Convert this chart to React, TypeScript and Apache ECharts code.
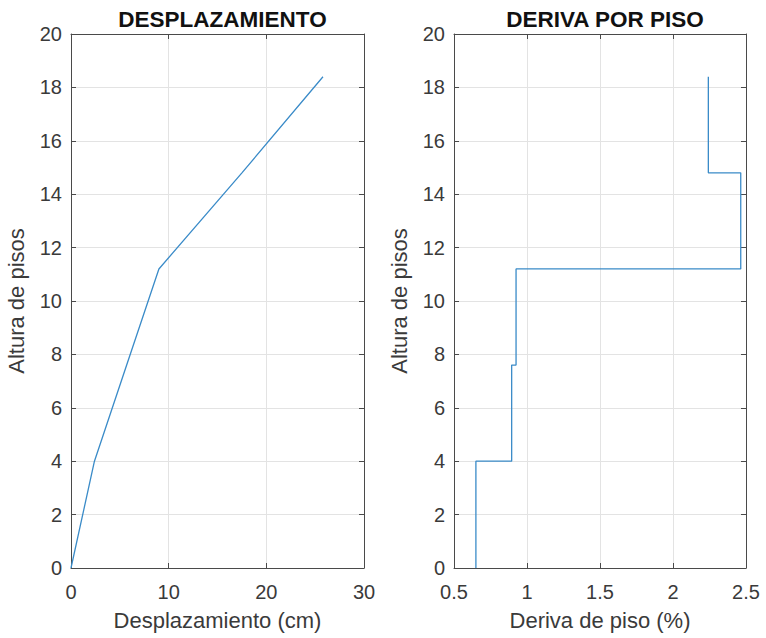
import React, { useEffect, useRef } from "react";
import * as echarts from "echarts";

// Floor heights (m)
const heights = [0, 4, 7.6, 11.2, 14.8, 18.4];
// Displacement at each floor (cm)
const displacement = [0, 2.4, 5.7, 9.0, 17.5, 25.8];
// Story drift (%) for each story (between consecutive floors)
const drift = [0.65, 0.895, 0.925, 2.464, 2.242];

const titles = ["DESPLAZAMIENTO", "DERIVA POR PISO"];
const xNames = ["Desplazamiento (cm)", "Deriva de piso (%)"];
const yName = "Altura de pisos";

const FONT = "Arial, 'Liberation Sans', Helvetica, sans-serif";
const AXIS_COLOR = "#4a4a4a";
const GRID_COLOR = "#e3e3e3";
const LABEL_COLOR = "#3a3a3a";
const LINE_COLOR = "#3a8bc8";

export default function App() {
  const ref = useRef<HTMLDivElement>(null);

  useEffect(() => {
    document.body.style.margin = "0";
    if (!ref.current) return;
    const chart = echarts.init(ref.current, null, { renderer: "svg" });

    const dispData = heights.map((h, i) => [displacement[i], h]);
    const driftData: number[][] = [];
    drift.forEach((d, i) => {
      driftData.push([d, heights[i]]);
      driftData.push([d, heights[i + 1]]);
    });

    const grids = [
      { left: 71, top: 34, width: 293, height: 534 },
      { left: 454, top: 34, width: 292, height: 534 },
    ];
    const xRanges = [
      { min: 0, max: 30, interval: 10 },
      { min: 0.5, max: 2.5, interval: 0.5 },
    ];
    const yRange = { min: 0, max: 20, interval: 2 };

    const axisLine = { show: true, onZero: false, lineStyle: { color: AXIS_COLOR, width: 1 } };
    const axisTick = { show: true, inside: true, length: 5, lineStyle: { color: AXIS_COLOR } };
    const labelStyle = { color: LABEL_COLOR, fontSize: 20, fontFamily: FONT, hideOverlap: false };

    const xAxis: any[] = [];
    const yAxis: any[] = [];
    [0, 1].forEach((g) => {
      xAxis.push({
        gridIndex: g,
        type: "value",
        ...xRanges[g],
        position: "bottom",
        name: xNames[g],
        nameLocation: "middle",
        nameGap: 41,
        nameTextStyle: { color: LABEL_COLOR, fontSize: 22, fontFamily: FONT },
        axisLine,
        axisTick,
        axisLabel: { ...labelStyle, margin: 14 },
        splitLine: { show: true, lineStyle: { color: GRID_COLOR, width: 1 } },
      });
      xAxis.push({
        gridIndex: g,
        type: "value",
        ...xRanges[g],
        position: "top",
        axisLine,
        axisTick,
        axisLabel: { show: false },
        splitLine: { show: false },
      });
      yAxis.push({
        gridIndex: g,
        type: "value",
        ...yRange,
        position: "left",
        name: yName,
        nameLocation: "middle",
        nameGap: 44,
        nameTextStyle: { color: LABEL_COLOR, fontSize: 22, fontFamily: FONT },
        axisLine,
        axisTick,
        axisLabel: { ...labelStyle, margin: 9 },
        splitLine: { show: true, lineStyle: { color: GRID_COLOR, width: 1 } },
      });
      yAxis.push({
        gridIndex: g,
        type: "value",
        ...yRange,
        position: "right",
        axisLine,
        axisTick,
        axisLabel: { show: false },
        splitLine: { show: false },
      });
    });

    chart.setOption({
      animation: false,
      backgroundColor: "#ffffff",
      title: [0, 1].map((g) => ({
        text: titles[g],
        left: grids[g].left + grids[g].width / 2,
        top: 3,
        textAlign: "center",
        textStyle: { fontSize: 22.5, fontWeight: "bold", color: "#111111", fontFamily: FONT },
      })),
      grid: grids,
      xAxis,
      yAxis,
      series: [
        {
          type: "line",
          xAxisIndex: 0,
          yAxisIndex: 0,
          data: dispData,
          showSymbol: false,
          symbol: "none",
          lineStyle: { color: LINE_COLOR, width: 1.3 },
        },
        {
          type: "line",
          xAxisIndex: 2,
          yAxisIndex: 2,
          data: driftData,
          showSymbol: false,
          symbol: "none",
          lineStyle: { color: LINE_COLOR, width: 1.3 },
        },
      ],
    });

    return () => chart.dispose();
  }, []);

  return <div ref={ref} style={{ width: 766, height: 638 }} />;
}
